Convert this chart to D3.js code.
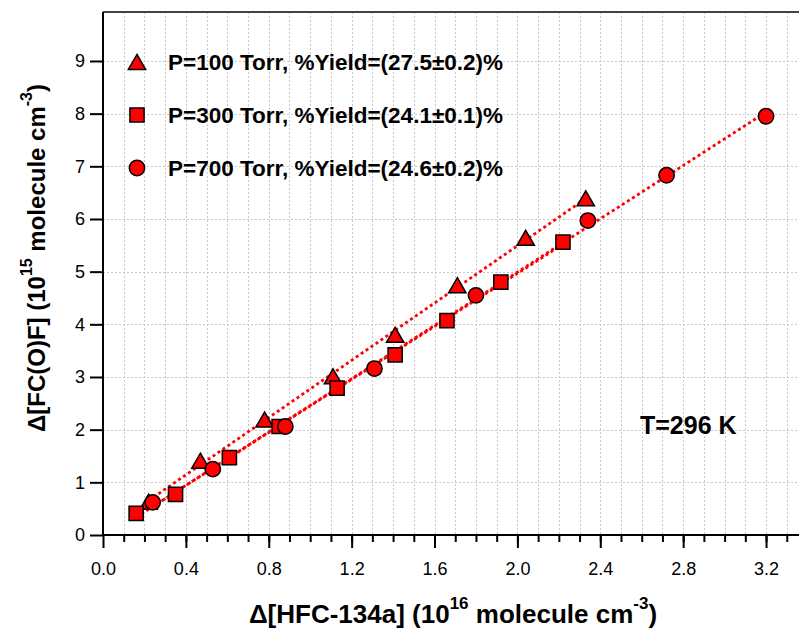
<!DOCTYPE html>
<html>
<head>
<meta charset="utf-8">
<script src="https://cdn.jsdelivr.net/npm/d3@7"></script>
<style>
  body { margin: 0; background: #fff; }
  svg { display: block; font-family: "Liberation Sans", Arial, sans-serif; }
</style>
</head>
<body>
<div id="chart"></div>
<script>
// data (x in 1e16, y in 1e15 molecule cm-3)
const tri100X = [0.22, 0.47, 0.78, 1.11, 1.41, 1.71, 2.04, 2.33];
const tri100Y = [0.63, 1.41, 2.19, 3.01, 3.80, 4.74, 5.64, 6.39];
const sq300X = [0.16, 0.35, 0.61, 0.85, 1.13, 1.41, 1.66, 1.92, 2.22];
const sq300Y = [0.41, 0.77, 1.47, 2.06, 2.79, 3.42, 4.07, 4.80, 5.56];
const ci700X = [0.24, 0.53, 0.88, 1.31, 1.80, 2.34, 2.72, 3.20];
const ci700Y = [0.62, 1.25, 2.06, 3.16, 4.55, 5.97, 6.83, 7.95];

const seriesLabels = [
  "P=100 Torr, %Yield=(27.5\u00b10.2)%",
  "P=300 Torr, %Yield=(24.1\u00b10.1)%",
  "P=700 Torr, %Yield=(24.6\u00b10.2)%"
];
const xMajorTicks = [0, 0.4, 0.8, 1.2, 1.6, 2.0, 2.4, 2.8, 3.2];
const xMinorTicks = d3.range(1, 34).map(i => i / 10);
const yTicks = [0, 1, 2, 3, 4, 5, 6, 7, 8, 9];

const series = [
  { name: seriesLabels[0], shape: d3.symbolTriangle, size: 130, xs: tri100X, ys: tri100Y },
  { name: seriesLabels[1], shape: d3.symbolSquare, size: 200, xs: sq300X, ys: sq300Y },
  { name: seriesLabels[2], shape: d3.symbolCircle, size: 185, xs: ci700X, ys: ci700Y }
];

const width = 799, height = 628;
const red = "#ff0000";

const x = d3.scaleLinear().domain([0, 3.4]).range([103, 103 + 207.2 * 3.4]);
const y = d3.scaleLinear().domain([0, 9.93]).range([535, 12]);

const svg = d3.select("#chart").append("svg")
  .attr("width", width)
  .attr("height", height);

// grid
const grid = svg.append("g")
  .attr("stroke", "#c8c8c8")
  .attr("stroke-width", 1)
  .attr("stroke-dasharray", "2,2");
grid.selectAll("line.v")
  .data(xMinorTicks)
  .join("line")
  .attr("class", "v")
  .attr("x1", d => Math.round(x(d)) + 0.5).attr("x2", d => Math.round(x(d)) + 0.5)
  .attr("y1", y(9.93)).attr("y2", y(0));
grid.selectAll("line.h")
  .data(yTicks.slice(1))
  .join("line")
  .attr("class", "h")
  .attr("x1", x(0)).attr("x2", width)
  .attr("y1", d => Math.round(y(d)) + 0.5).attr("y2", d => Math.round(y(d)) + 0.5);

// top frame line
svg.append("line")
  .attr("x1", x(0)).attr("x2", width)
  .attr("y1", y(9.93)).attr("y2", y(9.93))
  .attr("stroke", "#444").attr("stroke-width", 2);

// x axis: minor ticks then major ticks with labels
svg.append("g")
  .attr("transform", `translate(0,${y(0)})`)
  .call(d3.axisBottom(x).tickValues(xMinorTicks).tickSize(7).tickSizeOuter(0).tickFormat(""))
  .call(g => g.select(".domain").remove())
  .call(g => g.selectAll("line").attr("stroke", "#000").attr("stroke-width", 2));

svg.append("g")
  .attr("transform", `translate(0,${y(0)})`)
  .call(d3.axisBottom(x).tickValues(xMajorTicks).tickSize(13).tickSizeOuter(0)
    .tickPadding(14).tickFormat(d3.format(".1f")))
  .call(g => g.select(".domain").attr("stroke-width", 2).attr("d", `M${x(0)},0H${width}`))
  .call(g => g.selectAll("line").attr("stroke", "#000").attr("stroke-width", 2))
  .call(g => g.selectAll("text").attr("font-size", 18).attr("fill", "#000")
    .attr("font-family", "Liberation Sans, Arial, sans-serif"));

// y axis
svg.append("g")
  .attr("transform", `translate(${x(0)},0)`)
  .call(d3.axisLeft(y).tickValues(yTicks).tickSize(13).tickSizeOuter(0)
    .tickPadding(5).tickFormat(d3.format("d")))
  .call(g => g.select(".domain").attr("stroke-width", 2).attr("d", `M0,${y(9.93)}V${y(0)}`))
  .call(g => g.selectAll("line").attr("stroke", "#000").attr("stroke-width", 2))
  .call(g => g.selectAll("text").attr("font-size", 18).attr("fill", "#000")
    .attr("font-family", "Liberation Sans, Arial, sans-serif"));

// linear fits from the points
const fit = (xs, ys) => {
  const n = xs.length;
  const mx = d3.mean(xs), my = d3.mean(ys);
  let sxy = 0, sxx = 0;
  for (let i = 0; i < n; i++) {
    sxy += (xs[i] - mx) * (ys[i] - my);
    sxx += (xs[i] - mx) ** 2;
  }
  const b = sxy / sxx;
  const a = my - b * mx;
  const [x0, x1] = d3.extent(xs);
  return [[x0, a + b * x0], [x1, a + b * x1]];
};

const line = d3.line().x(d => x(d[0])).y(d => y(d[1]));

svg.append("g")
  .selectAll("path")
  .data(series)
  .join("path")
  .attr("d", s => line(fit(s.xs, s.ys)))
  .attr("fill", "none")
  .attr("stroke", red)
  .attr("stroke-width", 2.8)
  .attr("stroke-dasharray", "3,3");

// markers (triangle centroid shifted so its box sits on the point)
const triShift = s => s.shape === d3.symbolTriangle ? 2.4 : 0;

series.forEach(s => {
  svg.append("g")
    .selectAll("path")
    .data(s.xs.map((v, i) => [v, s.ys[i]]))
    .join("path")
    .attr("d", d3.symbol(s.shape, s.size))
    .attr("transform", d => `translate(${x(d[0])},${y(d[1]) + triShift(s)})`)
    .attr("fill", red)
    .attr("stroke", "#000")
    .attr("stroke-width", 1.5);
});

// legend
const legend = svg.append("g")
  .selectAll("g")
  .data(series)
  .join("g")
  .attr("transform", (d, i) => `translate(137,${62 + i * 53})`);

legend.append("path")
  .attr("d", d => d3.symbol(d.shape, d.size)())
  .attr("transform", d => `translate(0,${triShift(d)})`)
  .attr("fill", red)
  .attr("stroke", "#000")
  .attr("stroke-width", 1.5);

legend.append("text")
  .attr("x", 31)
  .attr("dy", "0.36em")
  .attr("font-size", 22.5)
  .attr("font-weight", "bold")
  .text(d => d.name);

// temperature note
svg.append("text")
  .attr("x", 640)
  .attr("y", 434)
  .attr("font-size", 25)
  .attr("font-weight", "bold")
  .text("T=296 K");

// x title
const xt = svg.append("text")
  .attr("x", 453)
  .attr("y", 623)
  .attr("text-anchor", "middle")
  .attr("font-size", 26)
  .attr("font-weight", "bold");
xt.append("tspan").text("\u0394[HFC-134a] (10");
xt.append("tspan").attr("font-size", 17).attr("dy", -14).text("16");
xt.append("tspan").attr("dy", 14).text(" molecule cm");
xt.append("tspan").attr("font-size", 17).attr("dy", -14).text("-3");
xt.append("tspan").attr("dy", 14).text(")");

// y title
const yt = svg.append("text")
  .attr("transform", "translate(45,258) rotate(-90)")
  .attr("text-anchor", "middle")
  .attr("font-size", 24)
  .attr("font-weight", "bold");
yt.append("tspan").text("\u0394[FC(O)F] (10");
yt.append("tspan").attr("font-size", 16).attr("dy", -13).text("15");
yt.append("tspan").attr("dy", 13).text(" molecule cm");
yt.append("tspan").attr("font-size", 16).attr("dy", -13).text("-3");
yt.append("tspan").attr("dy", 13).text(")");
</script>
</body>
</html>
